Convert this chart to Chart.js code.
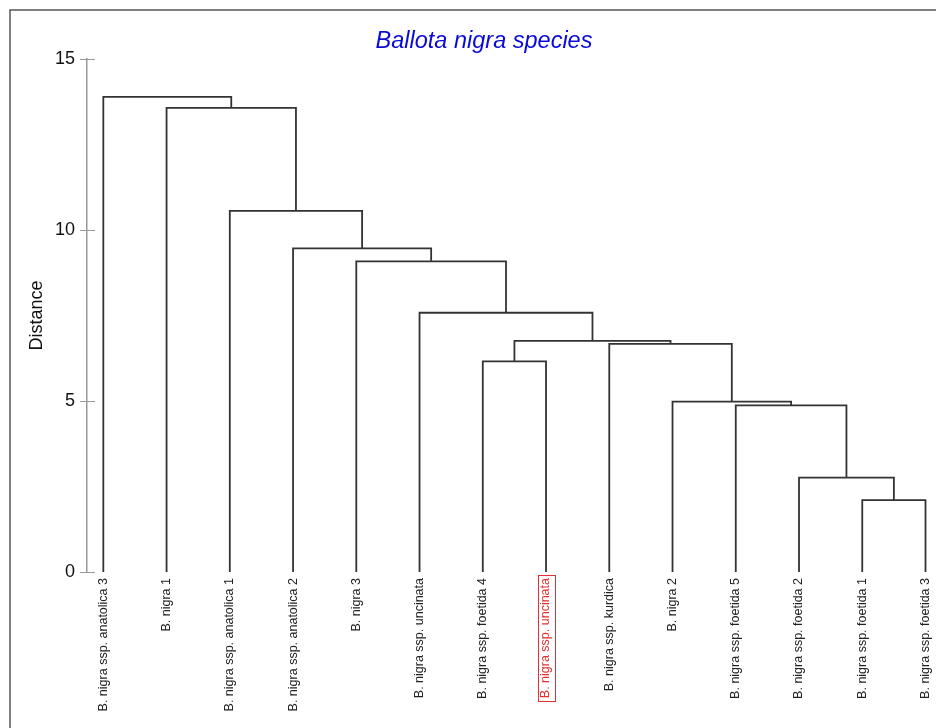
<!DOCTYPE html>
<html>
<head>
<meta charset="utf-8">
<script src="https://cdn.jsdelivr.net/npm/chart.js@4.4.1/dist/chart.umd.min.js"></script>
<style>
  html, body { margin: 0; padding: 0; background: #fff; overflow: hidden; }
  #wrap { width: 936px; height: 728px; position: relative; }
</style>
</head>
<body>
<div id="wrap"><canvas id="dendro" width="936" height="728"></canvas></div>
<script>
// leaves, left to right
var leafNames = [
    "B. nigra ssp. anatolica 3",
    "B. nigra 1",
    "B. nigra ssp. anatolica 1",
    "B. nigra ssp. anatolica 2",
    "B. nigra 3",
    "B. nigra ssp. uncinata",
    "B. nigra ssp. foetida 4",
    "B. nigra ssp. uncinata",
    "B. nigra ssp. kurdica",
    "B. nigra 2",
    "B. nigra ssp. foetida 5",
    "B. nigra ssp. foetida 2",
    "B. nigra ssp. foetida 1",
    "B. nigra ssp. foetida 3"
];
// merges: child ids (leaf index, or 14 + merge index) and distance
var mergeLeft   = [12, 11, 10, 9, 8, 6, 19, 5, 4, 3, 2, 1, 0];
var mergeRight  = [13, 14, 15, 16, 17, 7, 18, 20, 21, 22, 23, 24, 25];
var mergeHeight = [2.10, 2.76, 4.87, 4.98, 6.67, 6.16, 6.76, 7.58, 9.08, 9.46, 10.56, 13.57, 13.89];
var yTicks = [0, 5, 10, 15];
var highlightLeaf = 7;

var labelFont = {family: 'Arial, "Liberation Sans", sans-serif', size: 12.5};

// build the U-shaped links
var nodeX = leafNames.map(function (n, i) { return i; });
var nodeY = leafNames.map(function () { return 0; });
var datasets = [];
mergeHeight.forEach(function (h, k) {
    var a = mergeLeft[k], b = mergeRight[k];
    datasets.push({
        data: [
            {x: nodeX[a], y: nodeY[a]},
            {x: nodeX[a], y: h},
            {x: nodeX[b], y: h},
            {x: nodeX[b], y: nodeY[b]}
        ],
        showLine: true,
        borderColor: '#333333',
        borderWidth: 1.8,
        borderJoinStyle: 'miter',
        pointRadius: 0,
        tension: 0,
        clip: false
    });
    nodeX.push((nodeX[a] + nodeX[b]) / 2);
    nodeY.push(h);
});

var extras = {
    id: 'extras',
    beforeDraw: function (chart) {
        var ctx = chart.ctx;
        ctx.save();
        ctx.fillStyle = '#fff';
        ctx.fillRect(0, 0, chart.width, chart.height);
        // frame
        ctx.strokeStyle = '#555';
        ctx.lineWidth = 1.5;
        ctx.beginPath();
        ctx.moveTo(10, chart.height + 5);
        ctx.lineTo(10, 10);
        ctx.lineTo(chart.width + 5, 10);
        ctx.stroke();
        ctx.restore();
    },
    afterDraw: function (chart) {
        var ctx = chart.ctx;
        var ys = chart.scales.y, xs = chart.scales.x;
        ctx.save();
        // inner half of the y ticks
        ctx.strokeStyle = '#999';
        ctx.lineWidth = 1;
        yTicks.forEach(function (v) {
            var py = Math.round(ys.getPixelForValue(v)) + 0.5;
            ctx.beginPath();
            ctx.moveTo(ys.right, py);
            ctx.lineTo(ys.right + 8, py);
            ctx.stroke();
        });
        // red box round the highlighted label
        ctx.font = labelFont.size + 'px ' + labelFont.family;
        var w = ctx.measureText(leafNames[highlightLeaf]).width;
        var px = xs.getPixelForValue(highlightLeaf);
        var top = xs.top + 6;
        ctx.strokeStyle = '#e03030';
        ctx.lineWidth = 1;
        ctx.strokeRect(Math.round(px - 8.5) + 0.5, Math.round(top - 3) + 0.5, 17, Math.round(w + 6));
        ctx.restore();
    }
};

var chart = new Chart(document.getElementById('dendro'), {
    type: 'scatter',
    data: {datasets: datasets},
    options: {
        responsive: false,
        animation: false,
        layout: {padding: {left: 32, right: 0, top: 0, bottom: 0}},
        plugins: {
            legend: {display: false},
            tooltip: {enabled: false},
            title: {
                display: true,
                text: 'Ballota nigra species',
                color: '#0a0ad8',
                font: {family: 'Arial, "Liberation Sans", sans-serif', size: 23.5, style: 'italic', weight: 'normal'},
                padding: {top: 27, bottom: 3.8}
            }
        },
        scales: {
            x: {
                type: 'linear',
                min: -0.258,
                max: 13.166,
                grid: {display: false, drawTicks: false},
                border: {display: false},
                afterBuildTicks: function (scale) {
                    scale.ticks = leafNames.map(function (n, i) { return {value: i}; });
                },
                afterFit: function (scale) {
                    scale.height = 156;
                    scale.paddingLeft = 0;
                    scale.paddingRight = 0;
                },
                ticks: {
                    autoSkip: false,
                    minRotation: 90,
                    maxRotation: 90,
                    padding: 6,
                    font: labelFont,
                    color: function (c) { return c.index === highlightLeaf ? '#e03030' : '#222'; },
                    callback: function (v) { return leafNames[v]; }
                }
            },
            y: {
                type: 'linear',
                min: 0,
                max: 15,
                afterBuildTicks: function (scale) {
                    scale.ticks = yTicks.map(function (v) { return {value: v}; });
                },
                afterFit: function (scale) { scale.width = 55; },
                grid: {drawOnChartArea: false, tickLength: 7, color: '#999'},
                border: {color: '#999', width: 1.5},
                ticks: {
                    padding: 5,
                    color: '#111',
                    font: {family: 'Arial, "Liberation Sans", sans-serif', size: 18}
                },
                title: {
                    display: true,
                    text: 'Distance',
                    color: '#111',
                    padding: {top: -6, bottom: 0},
                    font: {family: 'Arial, "Liberation Sans", sans-serif', size: 18}
                }
            }
        }
    },
    plugins: [extras]
});
</script>
</body>
</html>
